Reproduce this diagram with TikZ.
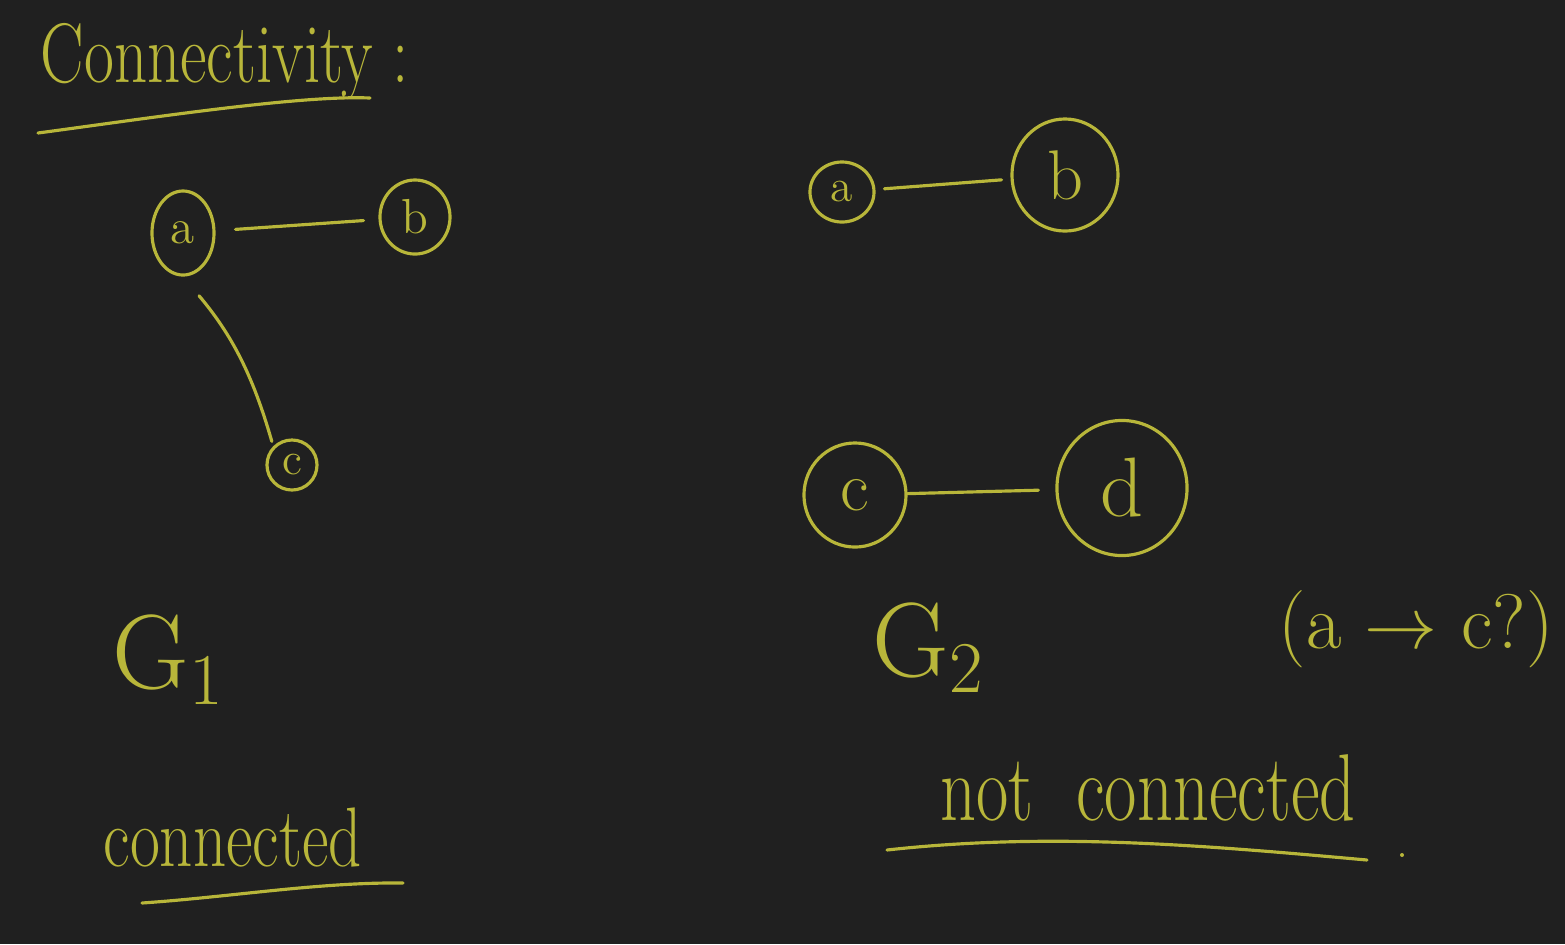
\documentclass[tikz,border=0pt]{standalone}
\usepackage{tikz}
\usetikzlibrary{shapes.geometric}
\usepackage{xcolor}
\definecolor{ink}{RGB}{184,182,58}
\definecolor{board}{RGB}{32,32,32}

\begin{document}
\begin{tikzpicture}[x=0.01cm,y=-0.01cm,
  vtx/.style={draw=ink, ellipse, line width=0.9pt, inner sep=0pt, text=ink},
  edge/.style={draw=ink, line width=0.9pt, line cap=round},
  lbl/.style={text=ink, inner sep=0pt}]
  \fill[board] (0,0) rectangle (1565,944);
  % title
  \node[lbl, anchor=base west] (title) at (40,82) {\fontsize{18.5}{22}\selectfont\scalebox{1}[1.3]{Connectivity :}};
  \draw[edge] (38,133) .. controls (150,118) and (300,95) .. (370,98);
  % graph G1
  \node[vtx, minimum width=0.62cm, minimum height=0.84cm] (a1) at (183,233) {\fontsize{14}{16}\selectfont a};
  \node[vtx, minimum width=0.7cm, minimum height=0.74cm] (b1) at (415,217) {\fontsize{14}{16}\selectfont b};
  \node[vtx, minimum width=0.5cm, minimum height=0.5cm] (c1) at (292,465) {\fontsize{13}{15}\selectfont c};
  \draw[edge, shorten <=0.2cm, shorten >=0.15cm] (a1) -- (b1);
  \draw[edge, shorten <=0.25cm, shorten >=0.05cm] (a1.south) to[bend left=12] (c1.north west);
  \node[lbl, anchor=base west] (g1) at (112,688) {\fontsize{30}{34}\selectfont G$_1$};
  \node[lbl, anchor=base west] (con) at (103,866) {\fontsize{18.5}{22}\selectfont\scalebox{1}[1.3]{connected}};
  \draw[edge] (142,903) .. controls (230,897) and (320,882) .. (403,883);
  % graph G2
  \node[vtx, minimum width=0.64cm, minimum height=0.6cm] (a2) at (842,192) {\fontsize{13}{15}\selectfont a};
  \node[vtx, minimum width=1.06cm, minimum height=1.12cm] (b2) at (1065,175) {\fontsize{20}{24}\selectfont b};
  \node[vtx, minimum width=1.02cm, minimum height=1.04cm] (c2) at (855,495) {\fontsize{20}{24}\selectfont c};
  \node[vtx, minimum width=1.3cm, minimum height=1.35cm] (d2) at (1122,488) {\fontsize{24}{28}\selectfont d};
  \draw[edge, shorten <=0.09cm, shorten >=0.09cm] (a2) -- (b2);
  \draw[edge, shorten >=0.17cm] (c2) -- (d2);
  \node[lbl, anchor=base west] (g2) at (872,676) {\fontsize{30}{34}\selectfont G$_2$};
  \node[lbl, anchor=base west] (ask) at (1278,648) {\fontsize{22}{26}\selectfont (a $\rightarrow$ c?)};
  \node[lbl, anchor=base west] (notcon) at (940,820) {\fontsize{20}{24}\selectfont\scalebox{1}[1.35]{not\ \ connected}};
  \draw[edge] (887,850) .. controls (1050,832) and (1200,845) .. (1367,860);
  \fill[ink] (1402,855) circle (0.02cm);
\end{tikzpicture}
\end{document}
